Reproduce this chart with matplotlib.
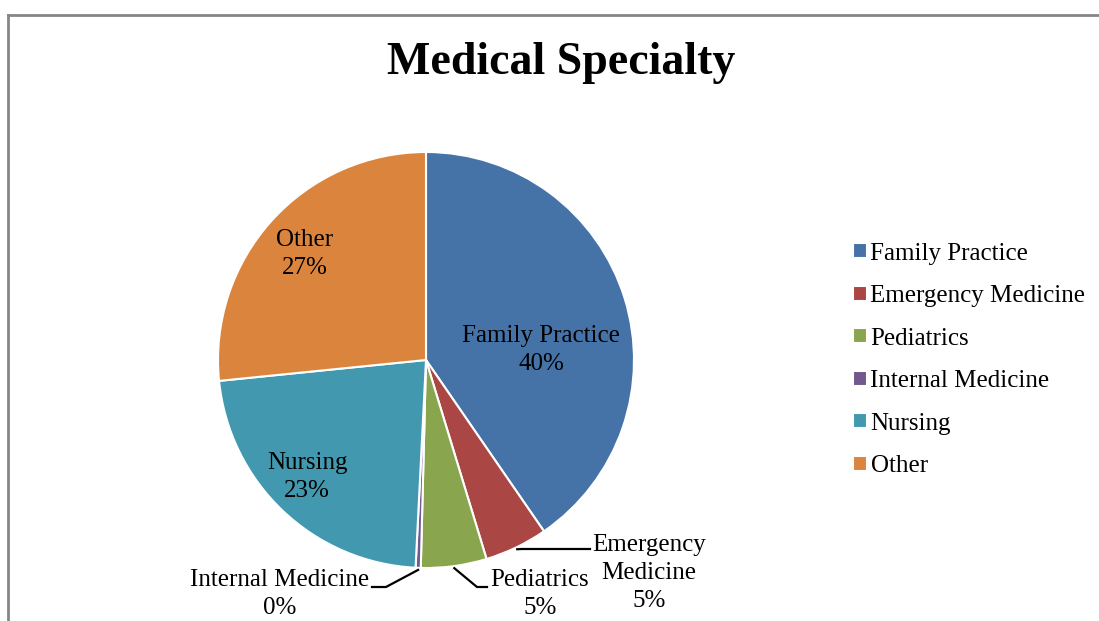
import numpy as np
import matplotlib.pyplot as plt
from matplotlib.lines import Line2D

# data (percent shares)
specialties = ['Family Practice', 'Emergency Medicine', 'Pediatrics',
               'Internal Medicine', 'Nursing', 'Other']
shares = [40.4, 4.9, 5.1, 0.4, 22.6, 26.6]
colours = ['#4572A7', '#AA4643', '#89A54E', '#71588F', '#4198AF', '#DB843D']

W, H = 1099, 621
CX, CY, R = 426, 360, 208   # pie centre / radius in pixels


def px(x, y):
    # pixel position (from top-left) -> data coords of the pie axes
    return (x - CX) / R, (CY - y) / R


plt.rcParams['font.family'] = ['Liberation Serif', 'DejaVu Serif']

fig = plt.figure(figsize=(W / 100, H / 100), dpi=100)
ax = fig.add_axes([0, 0, 1, 1])

wedges, _ = ax.pie(shares, colors=colours, startangle=90, counterclock=False,
                   radius=1, center=(0, 0), frame=True,
                   wedgeprops=dict(edgecolor='white', linewidth=1.5))
ax.set_xlim(-CX / R, (W - CX) / R)
ax.set_ylim(-(H - CY) / R, CY / R)
ax.set_aspect('auto')
ax.axis('off')

fs = 18
ls = 1.35
pct = [f'{round(s)}%' for s in shares]

# labels inside the big slices
inside = {0: (541, 350), 4: (307, 477), 5: (305, 254)}
for i, (x, y) in inside.items():
    ax.text(*px(x, y), f'{specialties[i]}\n{pct[i]}', ha='center', va='center',
            fontsize=fs, linespacing=ls)


def mid_point(i, r=1.0):
    w = wedges[i]
    a = np.deg2rad((w.theta1 + w.theta2) / 2)
    return r * np.cos(a), r * np.sin(a)


# Emergency Medicine
x0, y0 = mid_point(1, 1.01)
e1, e2 = px(522, 549), px(590, 549)
ax.plot([x0, e1[0], e2[0]], [y0, e1[1], e2[1]], color='black', lw=1.6)
ax.text(*px(649, 573), f'Emergency\nMedicine\n{pct[1]}', ha='center', va='center',
        fontsize=fs, linespacing=ls)

# Pediatrics
x0, y0 = mid_point(2, 1.01)
e1, e2 = px(477, 587), px(487, 587)
ax.plot([x0, e1[0], e2[0]], [y0, e1[1], e2[1]], color='black', lw=1.6)
ax.text(*px(540, 594), f'Pediatrics\n{pct[2]}', ha='center', va='center',
        fontsize=fs, linespacing=ls)

# Internal Medicine
x0, y0 = mid_point(3, 1.01)
e1, e2 = px(386, 587), px(372, 587)
ax.plot([x0, e1[0], e2[0]], [y0, e1[1], e2[1]], color='black', lw=1.6)
ax.text(*px(280, 594), f'Internal Medicine\n{pct[3]}', ha='center', va='center',
        fontsize=fs, linespacing=ls)

fig.text(561 / W, 1 - 63 / H, 'Medical Specialty', ha='center', va='center',
         fontsize=33, fontweight='bold')

fig.legend(wedges, specialties, loc='center left',
           bbox_to_anchor=(853 / W, 1 - 360 / H), frameon=False,
           fontsize=fs, handlelength=0.55, handleheight=0.55, handletextpad=0.15,
           labelspacing=0.82, borderpad=0, borderaxespad=0)

# chart-area border (top and left edges visible)
fig.add_artist(Line2D([8 / W, 1], [1 - 15 / H, 1 - 15 / H], color='#868686', lw=2))
fig.add_artist(Line2D([8 / W, 8 / W], [0, 1 - 15 / H], color='#868686', lw=2))

fig.savefig('out.png', dpi=100)
